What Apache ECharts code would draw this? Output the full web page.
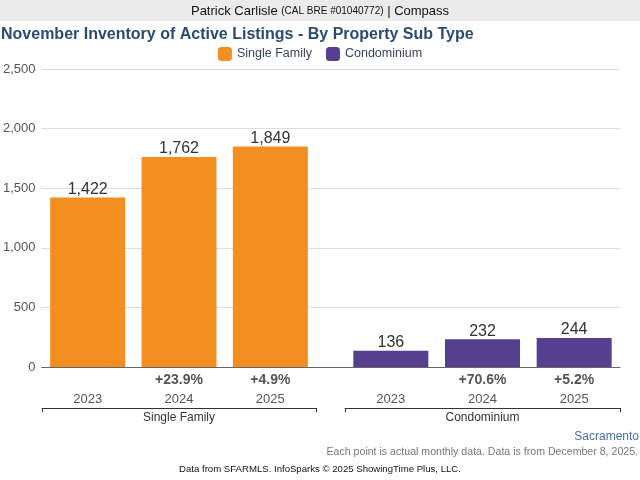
<!DOCTYPE html>
<html><head><meta charset="utf-8">
<script src="https://cdn.jsdelivr.net/npm/echarts@6/dist/echarts.min.js"></script>
<style>html,body{margin:0;padding:0;background:#fff}#c{width:640px;height:480px}</style>
</head><body><div id="c"></div>
<script>
const years = ['2023', '2024', '2025'];
const groups = ['Single Family', 'Condominium'];
const singleFamily = [1422, 1762, 1849];
const condominium = [136, 232, 244];
const sfChange = ['', '+23.9%', '+4.9%'];
const condoChange = ['', '+70.6%', '+5.2%'];
const yTicks = [0, 500, 1000, 1500, 2000, 2500];

const FONT = '"Liberation Sans", Arial, sans-serif';
const ORANGE = '#F28F20';
const PURPLE = '#573F8F';
const fmt = v => Number(v).toLocaleString('en-US');

const chart = echarts.init(document.getElementById('c'), null, {renderer: 'canvas'});

function barGridAxes(gridIndex, changes, groupName) {
  return [
    {
      type: 'category', gridIndex, data: years, position: 'bottom',
      axisLine: {show: false}, axisTick: {show: false}, splitLine: {show: false},
      axisLabel: {
        margin: 6, fontFamily: FONT, fontSize: 14, fontWeight: 'bold', color: '#555',
        formatter: (v, i) => changes[i]
      }
    },
    {
      type: 'category', gridIndex, data: years, position: 'bottom', offset: 19,
      axisLine: {show: false}, axisTick: {show: false},
      axisLabel: {margin: 7, fontFamily: FONT, fontSize: 13, color: '#555'}
    },
    {
      type: 'category', gridIndex, data: [groupName], position: 'bottom', offset: 41,
      axisLine: {show: true, lineStyle: {color: '#333', width: 1}},
      axisTick: {show: true, length: 4, lineStyle: {color: '#333'}},
      axisLabel: {margin: 4, fontFamily: FONT, fontSize: 12, color: '#333'}
    }
  ];
}

const option = {
  animation: false,
  backgroundColor: '#fff',
  graphic: [{type: 'rect', shape: {x: 0, y: 0, width: 640, height: 21}, style: {fill: '#ebebeb'}, z: -10}],
  title: [
    {
      text: '{a|Patrick Carlisle }{b|(CAL BRE #01040772)}{a| | Compass}',
      left: 'center', top: 5, padding: 0,
      textStyle: {rich: {
        a: {fontFamily: FONT, fontSize: 13, fontWeight: 'normal', color: '#111'},
        b: {fontFamily: FONT, fontSize: 10, fontWeight: 'normal', color: '#111'}
      }}
    },
    {
      text: 'November Inventory of Active Listings - By Property Sub Type',
      left: 1, top: 27, padding: 0,
      textStyle: {fontFamily: FONT, fontSize: 16, fontWeight: 'bold', color: '#2B4C70'}
    },
    {
      text: 'Sacramento', right: 1, top: 431, padding: 0,
      textStyle: {fontFamily: FONT, fontSize: 12, fontWeight: 'normal', color: '#4A6FA5'}
    },
    {
      text: 'Each point is actual monthly data. Data is from December 8, 2025.', right: 2, top: 447, padding: 0,
      textStyle: {fontFamily: FONT, fontSize: 10.6, fontWeight: 'normal', color: '#777'}
    },
    {
      text: 'Data from SFARMLS. InfoSparks \u00a9 2025 ShowingTime Plus, LLC.', left: 'center', top: 464, padding: 0,
      textStyle: {fontFamily: FONT, fontSize: 9.6, fontWeight: 'normal', color: '#111'}
    }
  ],
  legend: {
    top: 42, left: 'center', itemWidth: 14, itemHeight: 14, itemGap: 14,
    icon: 'roundRect',
    textStyle: {fontFamily: FONT, fontSize: 12.5, color: '#3A4556'},
    data: groups
  },
  grid: [
    {left: 41, right: 20, top: 69, bottom: 113},
    {left: 42, width: 274, top: 69, bottom: 113},
    {left: 345, right: 20, top: 69, bottom: 113}
  ],
  xAxis: [
    {
      type: 'category', gridIndex: 0, data: [''], position: 'bottom', offset: 19,
      axisLine: {show: true, lineStyle: {color: '#666', width: 1}},
      axisTick: {show: false}, axisLabel: {show: false}
    },
    ...barGridAxes(1, sfChange, groups[0]),
    ...barGridAxes(2, condoChange, groups[1])
  ],
  yAxis: [
    {
      type: 'value', gridIndex: 0, min: yTicks[0], max: yTicks[yTicks.length - 1], interval: 500,
      axisLine: {show: false}, axisTick: {show: false},
      splitLine: {lineStyle: {color: '#ddd', width: 1}},
      axisLabel: {margin: 6, fontFamily: FONT, fontSize: 13, color: '#555', formatter: v => fmt(v)}
    },
    {type: 'value', gridIndex: 1, min: 0, max: 2500, show: false, splitLine: {show: false}},
    {type: 'value', gridIndex: 2, min: 0, max: 2500, show: false, splitLine: {show: false}}
  ],
  series: [
    {
      name: groups[0], type: 'bar', xAxisIndex: 1, yAxisIndex: 1, data: singleFamily,
      barWidth: 75, itemStyle: {color: ORANGE},
      label: {show: true, position: 'top', distance: 0, fontFamily: FONT, fontSize: 16, color: '#333', formatter: p => fmt(p.value)},
      emphasis: {disabled: true}
    },
    {
      name: groups[1], type: 'bar', xAxisIndex: 4, yAxisIndex: 2, data: condominium,
      barWidth: 75, itemStyle: {color: PURPLE},
      label: {show: true, position: 'top', distance: 0, fontFamily: FONT, fontSize: 16, color: '#333', formatter: p => fmt(p.value)},
      emphasis: {disabled: true}
    }
  ]
};
chart.setOption(option);
</script></body></html>
